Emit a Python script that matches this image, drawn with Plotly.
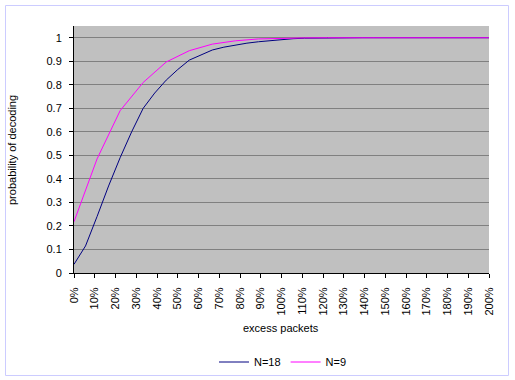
import plotly.graph_objects as go

# Data
n18_excess = [k / 18 for k in range(37)]
n18_prob = [0.037, 0.115, 0.24, 0.37, 0.49, 0.60, 0.70, 0.765, 0.82, 0.865,
            0.905, 0.928, 0.948, 0.96, 0.97, 0.977, 0.983, 0.988, 0.993, 0.996,
            0.998, 0.999, 0.9995, 1.0, 1.0, 1.0, 1.0, 1.0, 1.0, 1.0,
            1.0, 1.0, 1.0, 1.0, 1.0, 1.0, 1.0]
n9_excess = [k / 9 for k in range(19)]
n9_prob = [0.218, 0.485, 0.69, 0.81, 0.897, 0.945, 0.973, 0.987, 0.995, 0.998,
           0.9995, 1.0, 1.0, 1.0, 1.0, 1.0, 1.0, 1.0, 1.0]
series_names = ["N=18", "N=9"]
x_title = "excess packets"
y_title = "probability of decoding"

W, H = 515, 380
ML, MR, MT, MB = 74, 26, 26, 107
PW = W - ML - MR
PH = H - MT - MB

def px_x(p):
    return (p - ML) / PW

def px_y(p):
    return (H - MB - p) / PH

FONT = "Liberation Sans, Arial, sans-serif"

fig = go.Figure()
fig.add_trace(go.Scatter(x=n18_excess, y=n18_prob, mode="lines", name=series_names[0],
                         line=dict(color="#000080", width=1)))
fig.add_trace(go.Scatter(x=n9_excess, y=n9_prob, mode="lines", name=series_names[1],
                         line=dict(color="#ff00ff", width=1)))

fig.update_layout(
    width=W, height=H,
    margin=dict(l=ML, r=MR, t=MT, b=MB, pad=0, autoexpand=False),
    paper_bgcolor="white",
    plot_bgcolor="#c0c0c0",
    font=dict(family=FONT, size=11, color="black"),
    showlegend=True,
    legend=dict(orientation="h", xref="container", yref="container",
                x=283 / W, xanchor="center", y=(H - 362) / H, yanchor="middle",
                font=dict(size=11), itemwidth=30, bgcolor="rgba(0,0,0,0)",
                borderwidth=0),
    xaxis=dict(range=[0, 2.0], tickmode="linear", tick0=0, dtick=0.1, tickformat=".0%",
               tickangle=-90, ticks="outside", ticklen=4, tickcolor="black",
               showline=True, linecolor="black", linewidth=1, showgrid=False,
               zeroline=False, ticklabelstandoff=5, automargin=False),
    yaxis=dict(range=[0, 1.05], tickmode="linear", tick0=0, dtick=0.1,
               ticks="outside", ticklen=4, tickcolor="black",
               showline=True, linecolor="black", linewidth=1,
               showgrid=True, gridcolor="#808080", gridwidth=1, zeroline=False,
               ticklabelstandoff=5, automargin=False),
    annotations=[
        dict(text=x_title, xref="paper", yref="paper", x=px_x(281), y=px_y(328),
             xanchor="center", yanchor="middle", showarrow=False, font=dict(size=11)),
        dict(text=y_title, xref="paper", yref="paper", x=px_x(12), y=px_y(150),
             xanchor="center", yanchor="middle", showarrow=False, textangle=-90,
             font=dict(size=11)),
    ],
    shapes=[
        dict(type="rect", xref="paper", yref="paper", x0=px_x(5.5), x1=px_x(508.5),
             y0=px_y(375.5), y1=px_y(5.5), line=dict(color="#ccccff", width=1),
             fillcolor="rgba(0,0,0,0)", layer="below"),
    ],
)

fig.write_html("out.html", config={"displayModeBar": False},
               post_script="document.body.style.margin='0';")
